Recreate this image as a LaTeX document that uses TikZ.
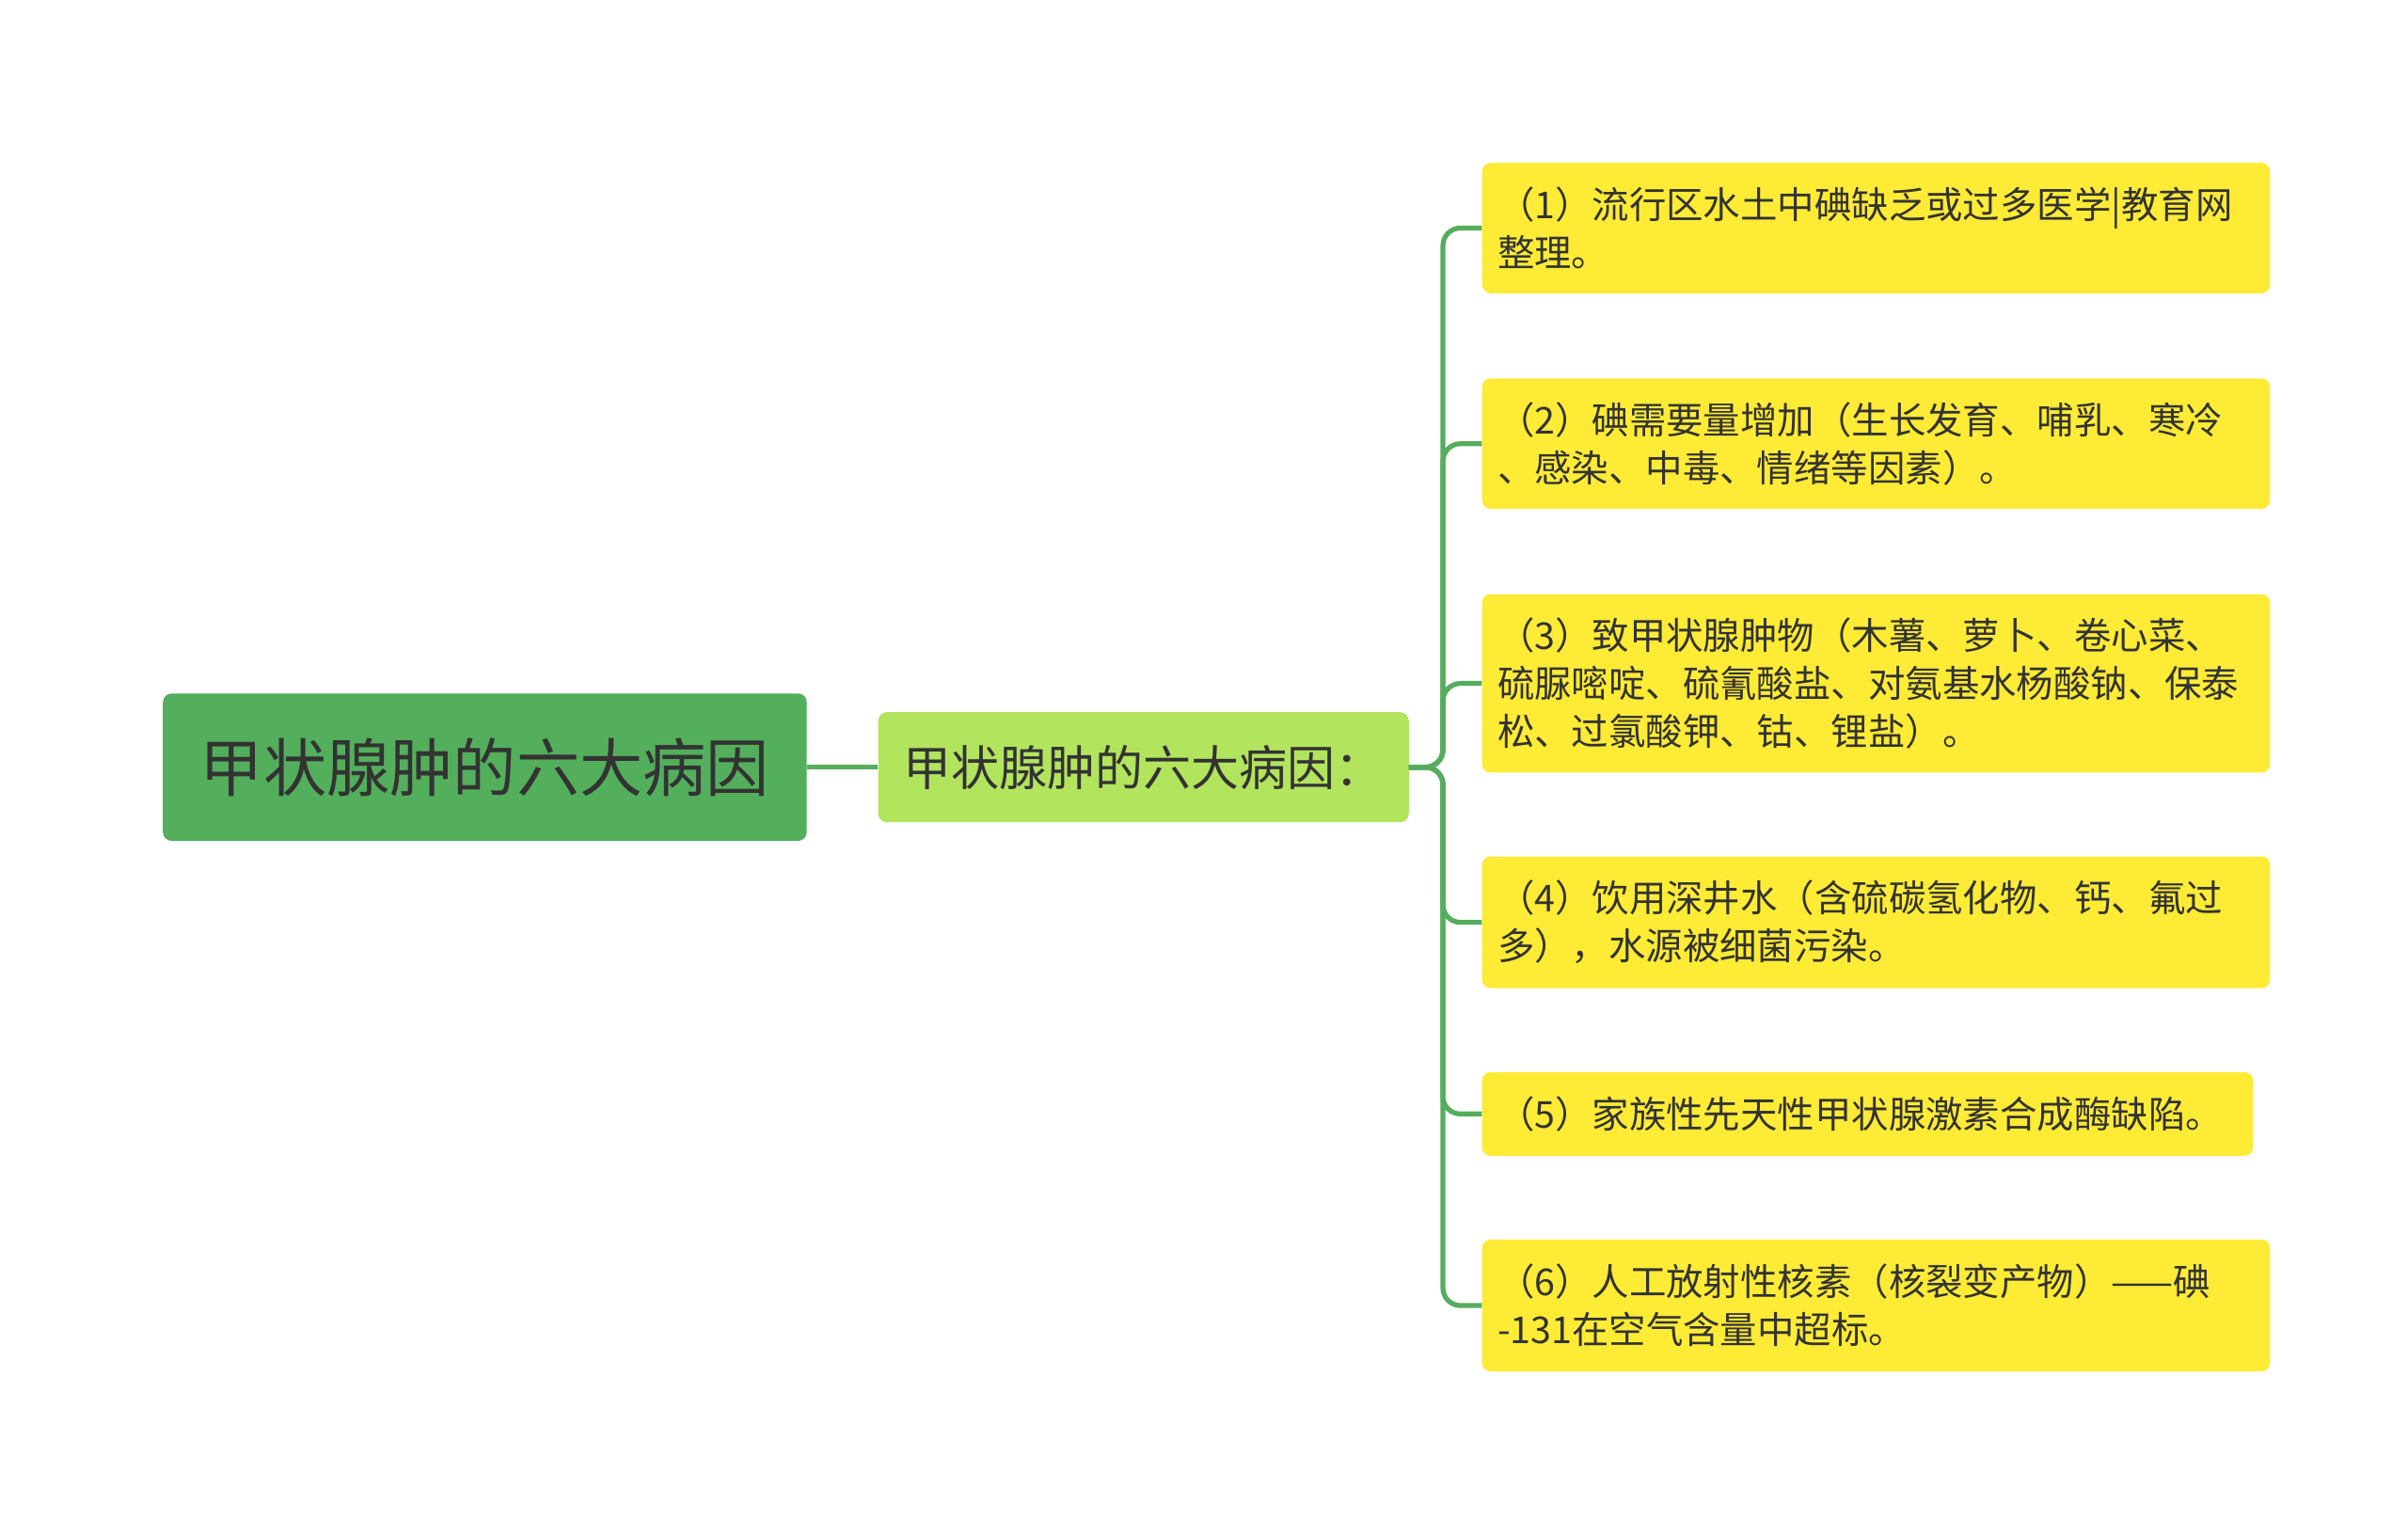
\documentclass[tikz,border=0pt]{standalone}
\usepackage{fontspec}
\newfontfamily\cjk{Noto Sans CJK SC}
\definecolor{rootc}{HTML}{53AF5C}
\definecolor{midc}{HTML}{B2E45E}
\definecolor{leafc}{HTML}{FDEB36}
\definecolor{linec}{HTML}{55AD5D}
\definecolor{txt}{HTML}{333333}
\begin{document}
\begin{tikzpicture}[x=0.05cm,y=-0.05cm,
  box/.style={rounded corners=8pt,inner sep=0pt,text=txt,font=\cjk},
  leaf/.style={box,fill=leafc,align=left,font=\cjk\fontsize{34}{44}\selectfont,anchor=west},
  conn/.style={draw=linec,line width=4.5pt,rounded corners=16pt}]
\useasboundingbox (0,0) rectangle (1552,979);
\node[box,fill=rootc,minimum width=415*0.05cm,minimum height=95*0.05cm,font=\cjk\fontsize{58}{66}\selectfont] (root) at (312.5,494.5) {甲状腺肿的六大病因};
\node[box,fill=midc,minimum width=342*0.05cm,minimum height=71*0.05cm,font=\cjk\fontsize{44}{50}\selectfont] (mid) at (737,494.5) {甲状腺肿的六大病因：};
\tikzset{lf/.style={leaf,minimum width=508*0.05cm,text width=488*0.05cm,minimum height=#1*0.05cm}}
\node[lf=84] (l1) at (955,147) {（1）流行区水土中碘缺乏或过多医学|教育网\\整理。};
\node[lf=84] (l2) at (955,286) {（2）碘需要量增加（生长发育、哺乳、寒冷\\、感染、中毒、情绪等因素）。};
\node[lf=115] (l3) at (955,440.5) {（3）致甲状腺肿物（木薯、萝卜、卷心菜、\\硫脲嘧啶、硫氰酸盐、对氨基水杨酸钠、保泰\\松、过氯酸钾、钴、锂盐）。};
\node[lf=85] (l4) at (955,594.5) {（4）饮用深井水（含硫碳氢化物、钙、氟过\\多），水源被细菌污染。};
\node[leaf,minimum width=497*0.05cm,text width=477*0.05cm,minimum height=54*0.05cm] (l5) at (955,718) {（5）家族性先天性甲状腺激素合成酶缺陷。};
\node[lf=85] (l6) at (955,841.5) {（6）人工放射性核素（核裂变产物）——碘\\-131在空气含量中超标。};
\draw[conn] (root.east) -- (mid.west);
\foreach \n in {l1,l2,l3,l4,l5,l6}{
  \draw[conn] (mid.east) -- (930,494.5) |- (\n.west);
}
\end{tikzpicture}
\end{document}
